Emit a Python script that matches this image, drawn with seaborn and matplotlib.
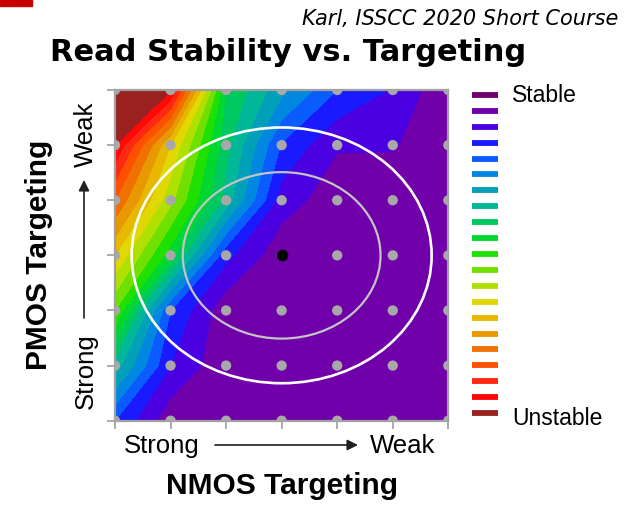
import numpy as np
import pandas as pd
import matplotlib
matplotlib.use("Agg")
import matplotlib.pyplot as plt
import seaborn as sns
from matplotlib.patches import Ellipse, Rectangle

sns.set_theme(style="white")
plt.rcParams['font.family'] = ['Liberation Sans', 'DejaVu Sans']
plt.rcParams['text.color'] = 'black'

# targeting grid, 0 = strong ... 6 = weak
nmos_pos = [0, 1, 2, 3, 4, 5, 6]
pmos_pos = [0, 1, 2, 3, 4, 5, 6]

# instability index read off the colour bands (0 = most stable band, 21 = unstable)
# rows go from PMOS weak (top) down to PMOS strong (bottom)
instab_rows = [
    [21.0, 20.1, 9.0, 6.3, 4.0, 2.9, 1.2],
    [20.0, 14.0, 8.3, 3.9, 2.1, 2.1, 1.2],
    [17.0, 12.3, 7.6, 2.5, 1.4, 1.2, 1.1],
    [14.0, 9.5, 3.3, 1.3, 1.1, 1.1, 1.1],
    [11.0, 4.0, 1.3, 1.1, 1.1, 1.1, 1.1],
    [7.5, 3.0, 1.2, 1.1, 1.1, 1.1, 1.1],
    [4.0, 1.3, 1.1, 1.1, 1.1, 1.1, 1.1],
]

# band colours, stable -> unstable
band_colors = ["#700070", "#7000AA", "#4A00E0", "#1A1AFF", "#0A5CFF", "#0088E0",
               "#00A0B8", "#00B898", "#00C860", "#00D830", "#20E000", "#70E000",
               "#B0E000", "#E0D800", "#E8B800", "#E89800", "#F07000", "#FF5000",
               "#FF2810", "#FF0808", "#9B2020"]
legend_labels = ["Stable"] + [""] * 19 + ["Unstable"]

# nominal corner and the two spread ellipses (semi axes in grid units)
nominal = (3, 3)
spread_inner = (1.78, 1.51)
spread_outer = (2.70, 2.32)

Z = np.array(instab_rows[::-1])
pts = pd.DataFrame([(x, y) for y in pmos_pos for x in nmos_pos], columns=["nmos", "pmos"])

W, H = 636, 509
fig = plt.figure(figsize=(W / 100, H / 100), dpi=100)
ax = fig.add_axes([115 / W, 1 - 420.7 / H, 333.3 / W, 330.7 / H])

ax.contourf(nmos_pos, pmos_pos, Z, levels=np.arange(22), colors=band_colors, antialiased=False)

ax.add_patch(Ellipse(nominal, 2 * spread_outer[0], 2 * spread_outer[1], fill=False,
                     edgecolor="white", lw=1.9, zorder=3))
ax.add_patch(Ellipse(nominal, 2 * spread_inner[0], 2 * spread_inner[1], fill=False,
                     edgecolor="#C4C4C4", lw=1.6, zorder=3))

sns.scatterplot(data=pts, x="nmos", y="pmos", ax=ax, color="#A8A8A8", s=55,
                edgecolor="none", zorder=4, legend=False)
ax.scatter([nominal[0]], [nominal[1]], color="black", s=55, zorder=5)

ax.set_xlim(0, 6)
ax.set_ylim(0, 6)
ax.set_xticks(nmos_pos)
ax.set_yticks(pmos_pos)
ax.set_xticklabels([])
ax.set_yticklabels([])
ax.set_xlabel("")
ax.set_ylabel("")
ax.tick_params(axis="both", direction="out", length=6, width=1.2, color="#A0A0A0",
               bottom=True, left=True)
ax.xaxis.get_major_ticks()[3].tick1line.set_color("#E02030")
ax.yaxis.get_major_ticks()[3].tick1line.set_color("#E02030")
for sp in ax.spines.values():
    sp.set_color("#A0A0A0")
    sp.set_linewidth(1.6)
    sp.set_visible(True)

# colour key
lax = fig.add_axes([472 / W, 1 - 421 / H, 26 / W, 334 / H])
for k, c in enumerate(band_colors):
    lax.hlines(20 - k, 0, 1, color=c, lw=4.2)
lax.text(1.53, 19.58, legend_labels[0], fontsize=16.5, ha="left", va="baseline")
lax.text(1.53, -0.75, legend_labels[-1], fontsize=16.5, ha="left", va="baseline")
lax.set_xlim(0, 1)
lax.set_ylim(-0.5, 20.5)
lax.axis("off")

# titles and axis texts
fig.text(288 / W, 1 - 61.2 / H, "Read Stability vs. Targeting", fontsize=22,
         fontweight="bold", family="DejaVu Sans", ha="center", va="baseline")
fig.text(618 / W, 1 - 25.3 / H, "Karl, ISSCC 2020 Short Course", fontsize=15,
         style="italic", family="DejaVu Sans", ha="right", va="baseline")
fig.text(282.5 / W, 1 - 494 / H, "NMOS Targeting", fontsize=21.5, fontweight="bold",
         ha="center", va="baseline")
fig.text(39 / W, 1 - 255 / H, "PMOS Targeting", fontsize=21.5, fontweight="bold",
         rotation=90, ha="center", va="center")

fig.text(162 / W, 1 - 453 / H, "Strong", fontsize=18.5, ha="center", va="baseline")
fig.text(402.5 / W, 1 - 453 / H, "Weak", fontsize=18.5, ha="center", va="baseline")
fig.text(86 / W, 1 - 371.5 / H, "Strong", fontsize=18.5, rotation=90, ha="center", va="center")
fig.text(86 / W, 1 - 134 / H, "Weak", fontsize=18.5, rotation=90, ha="center", va="center")

arrow = dict(arrowstyle="-|>", color="#202020", lw=1.2, mutation_scale=16, shrinkA=0, shrinkB=0)
ax.annotate("", xy=(358 / W, 1 - 445 / H), xytext=(215 / W, 1 - 445 / H),
            xycoords="figure fraction", textcoords="figure fraction", arrowprops=arrow)
ax.annotate("", xy=(84 / W, 1 - 180 / H), xytext=(84 / W, 1 - 318 / H),
            xycoords="figure fraction", textcoords="figure fraction", arrowprops=arrow)

# slide template corner mark
fig.add_artist(Rectangle((0, 1 - 6 / H), 32 / W, 6 / H, transform=fig.transFigure,
                         color="#C80000"))

fig.savefig("out.png", dpi=100)
